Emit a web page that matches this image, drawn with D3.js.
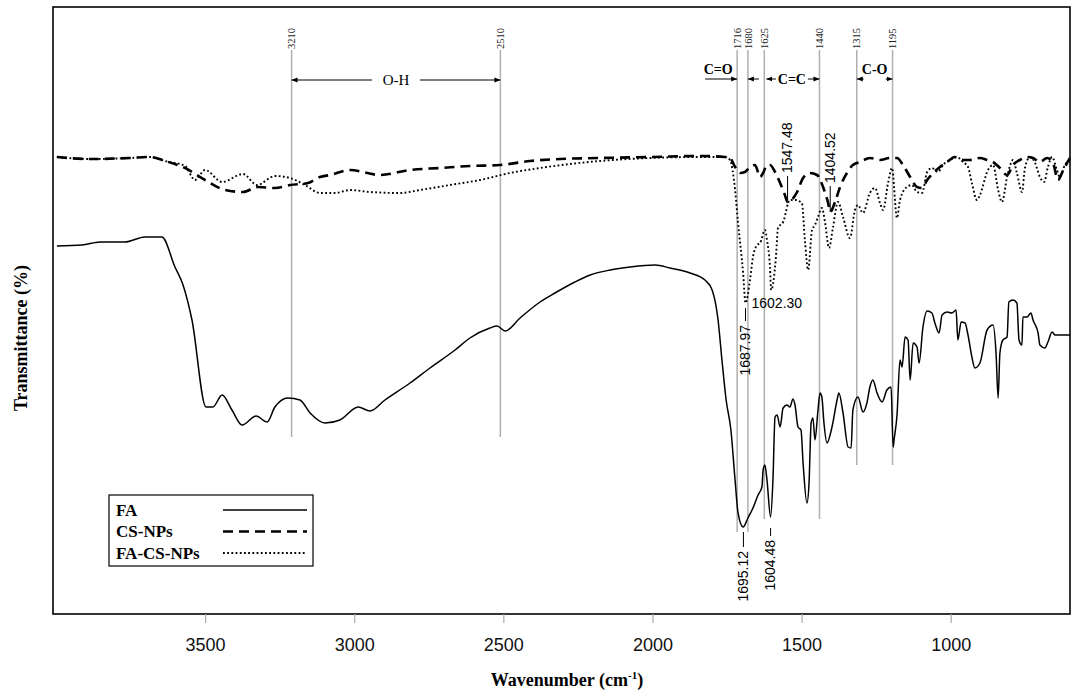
<!DOCTYPE html>
<html>
<head>
<meta charset="utf-8">
<script src="https://cdn.jsdelivr.net/npm/d3@7"></script>
<style>
  body { margin: 0; background: #fff; }
  svg { display: block; }
  .serif { font-family: "Liberation Serif", "Times New Roman", serif; }
  .sans { font-family: "Liberation Sans", Arial, sans-serif; }
</style>
</head>
<body>
<div id="chart"></div>
<script>
// ---- data (wavenumber cm-1, transmittance in arbitrary %) ----
const faWave = [3997,3913,3852,3769,3702,3645,3601,3574,3544,3497,3474,3443,3410,3376,3329,3292,3266,3222,3182,3148,3098,3048,2987,2947,2897,2813,2746,2662,2612,2545,2521,2494,2444,2377,2327,2260,2209,2142,2075,1991,1941,1874,1824,1800,1780,1767,1753,1737,1723,1713,1696,1680,1663,1646,1633,1629,1623,1616,1604,1596,1589,1582,1572,1562,1549,1539,1529,1522,1512,1502,1495,1482,1475,1468,1462,1455,1445,1438,1432,1425,1415,1398,1381,1375,1361,1344,1334,1328,1311,1294,1281,1271,1261,1247,1230,1214,1200,1193,1190,1180,1170,1163,1153,1143,1136,1126,1113,1106,1093,1079,1063,1053,1039,1029,1012,996,982,976,965,952,942,929,919,902,878,858,848,841,835,825,811,805,791,778,771,761,758,744,731,724,707,701,684,674,660,650,600];
const faT = [70.8,71.0,71.6,71.6,72.6,72.6,66.6,63.0,56.0,38.6,38.6,41.0,38.0,35.0,36.8,35.6,38.6,40.4,40.0,37.4,35.4,36.0,38.6,37.8,40.0,43.4,46.4,50.0,52.4,54.4,54.8,53.8,56.4,59.6,61.4,63.6,65.0,66.0,66.6,67.0,66.4,65.4,64.0,62.0,56.0,48.0,40.0,34.0,24.0,17.4,14.6,16.4,18.4,21.0,22.6,26.0,27.0,24.0,16.6,24.0,36.6,37.0,34.6,38.4,39.0,38.6,40.2,39.0,34.6,34.0,27.4,19.4,23.4,35.4,36.4,32.0,38.0,41.4,40.6,35.4,31.4,34.6,40.0,41.4,37.4,30.6,30.4,38.0,40.6,37.6,39.4,42.6,44.0,41.4,39.6,42.0,42.6,30.6,32.0,37.0,48.0,46.6,52.6,52.0,44.0,51.4,50.6,47.4,54.6,57.8,57.4,55.4,53.4,57.0,57.6,57.4,58.0,52.0,55.6,55.4,53.0,48.6,46.4,47.4,54.0,55.0,49.4,40.4,49.4,52.0,52.6,59.6,60.0,59.4,52.0,51.0,56.6,56.6,57.4,56.0,53.4,51.0,50.4,51.6,53.6,53.0,53.0];

const csWave = [3997,3886,3752,3685,3634,3567,3500,3433,3373,3323,3266,3215,3155,3115,3081,3014,2914,2813,2712,2612,2511,2411,2310,2176,2008,1841,1757,1740,1723,1706,1690,1673,1656,1639,1629,1616,1606,1589,1572,1556,1547,1515,1495,1472,1448,1428,1411,1404,1388,1371,1348,1328,1304,1271,1237,1204,1180,1160,1136,1113,1096,1079,1059,1036,1012,986,959,935,902,878,858,835,811,791,768,744,724,701,677,657,640,627,610,600];
const csT = [88.6,88.2,88.4,88.6,87.8,86.4,84.0,82.0,81.6,82.6,82.4,83.0,83.4,84.6,85.0,86.0,85.0,86.0,86.4,86.8,87.0,87.8,88.2,88.4,88.6,88.8,88.6,88.4,86.6,85.4,85.6,86.6,87.0,84.6,85.4,87.0,87.0,85.6,83.4,81.0,79.6,81.6,84.4,85.4,85.0,82.6,79.4,77.6,79.6,82.6,85.4,87.0,87.6,88.4,88.0,88.4,88.4,87.0,84.6,82.6,82.4,84.0,85.4,86.6,87.6,88.6,88.0,88.0,88.4,88.0,87.6,86.4,85.0,87.0,88.0,88.6,88.4,87.6,88.4,87.4,84.0,85.4,87.4,88.4];

const facsWave = [3997,3886,3752,3685,3634,3567,3534,3500,3443,3373,3326,3266,3215,3165,3115,3064,3014,2947,2847,2779,2679,2578,2478,2377,2276,2176,2008,1841,1757,1740,1723,1713,1696,1688,1673,1663,1649,1639,1623,1616,1606,1602,1586,1579,1562,1539,1522,1499,1489,1478,1465,1455,1445,1432,1421,1408,1395,1378,1361,1338,1321,1311,1294,1271,1254,1237,1227,1210,1197,1180,1170,1147,1130,1113,1096,1079,1063,1043,1026,1002,979,959,942,929,912,902,875,858,841,828,811,791,778,761,751,734,717,701,687,674,660,644,634,617,600];
const facsT = [88.6,88.2,88.4,88.6,87.8,86.8,84.0,86.0,83.6,85.2,83.0,84.8,84.4,83.0,81.4,81.4,82.0,81.6,81.4,82.0,83.0,84.0,85.4,86.4,87.2,87.8,88.4,88.6,88.6,88.0,82.0,75.4,65.4,59.4,64.0,68.6,71.0,71.4,74.0,72.0,66.6,62.0,68.6,74.4,75.6,80.0,80.0,79.4,72.0,66.0,74.0,75.0,76.6,78.4,75.4,70.4,74.4,79.6,76.6,72.4,78.0,79.0,77.4,81.4,82.4,79.4,78.0,83.4,86.4,76.4,80.0,82.6,83.0,81.6,81.4,85.6,86.4,85.6,87.0,88.0,88.6,87.6,86.6,83.4,80.0,81.0,86.0,87.0,82.0,79.6,84.6,88.0,85.4,81.6,86.4,88.6,87.4,84.6,83.6,86.6,88.6,86.0,84.6,87.0,88.0];

const seriesNames = ["FA", "CS-NPs", "FA-CS-NPs"];
const xTicks = [3500, 3000, 2500, 2000, 1500, 1000];

// reference lines (wavenumber, lower end in transmittance units)
const refWave = [3210, 2510, 1716, 1680, 1625, 1440, 1315, 1195];
const refBottom = [32.6, 32.6, 13.6, 13.6, 16.2, 16.2, 27, 27];

// peak labels: wavenumber of leader, leader start/end (T), label text
const peakWave = [1547, 1404, 1688, 1695, 1604];
const peakText = ["1547.48", "1404.52", "1687.97", "1695.12", "1604.48"];
const peakFrom = [80.0, 77.6, 58.4, 13.6, 14.4];
const peakTo = [84.8, 82.8, 55.8, 10.6, 12.8];

const W = 1084, H = 695;
const frame = { left: 53, right: 1070, top: 7, bottom: 614 };

const svg = d3.select("#chart").append("svg")
  .attr("width", W).attr("height", H);

const defs = svg.append("defs");
defs.append("marker")
  .attr("id", "arrow")
  .attr("viewBox", "0 0 10 10")
  .attr("refX", 10).attr("refY", 5)
  .attr("markerWidth", 6).attr("markerHeight", 6)
  .attr("markerUnits", "userSpaceOnUse")
  .attr("orient", "auto")
  .append("path").attr("d", "M0,1 L10,5 L0,9 Z").attr("fill", "#000");

const x = d3.scaleLinear().domain([4010, 600]).range([frame.left, frame.right]);
const y = d3.scaleLinear().domain([0, 100]).range([600, 100]);

// gray reference lines
svg.append("g").selectAll("line")
  .data(refWave)
  .enter().append("line")
  .attr("x1", d => x(d)).attr("x2", d => x(d))
  .attr("y1", y(110)).attr("y2", (d, i) => y(refBottom[i]))
  .attr("stroke", "#b0b0b0").attr("stroke-width", 1.5);

svg.append("g").selectAll("text")
  .data(refWave)
  .enter().append("text")
  .attr("class", "serif")
  .attr("transform", d => `translate(${x(d)},${y(110) - 1}) rotate(-90)`)
  .attr("dy", "0.35em")
  .attr("font-size", 10.5)
  .attr("fill", "#222")
  .text(d => d);

// band annotations
const arrowY = y(104);
function arrow(x1, x2, yy) {
  svg.append("line")
    .attr("x1", x1).attr("x2", x2).attr("y1", yy).attr("y2", yy)
    .attr("stroke", "#000").attr("stroke-width", 1)
    .attr("marker-end", "url(#arrow)");
}
function bandLabel(txt, cx, cy, bold, size) {
  svg.append("text").attr("class", "serif")
    .attr("x", cx).attr("y", cy)
    .attr("text-anchor", "middle").attr("dominant-baseline", "central")
    .attr("font-size", size).attr("font-weight", bold ? "bold" : "normal")
    .text(txt);
}
// O-H
const ohMid = (x(3210) + x(2510)) / 2;
arrow(ohMid - 24, x(3210), arrowY);
arrow(ohMid + 24, x(2510), arrowY);
bandLabel("O-H", ohMid, arrowY, false, 15);
// C=O
arrow(x(1716) - 32, x(1716), arrowY - 1);
arrow(x(1680) + 11, x(1680), arrowY - 1);
bandLabel("C=O", x(1716) - 19, arrowY - 11, true, 14);
// C=C
const ccMid = (x(1625) + x(1440)) / 2;
arrow(ccMid - 16, x(1625) + 2, arrowY - 1);
arrow(ccMid + 16, x(1440), arrowY - 1);
bandLabel("C=C", ccMid, arrowY - 1, true, 14);
// C-O
const coMid = (x(1315) + x(1195)) / 2;
arrow(coMid - 11, x(1315), arrowY - 1);
arrow(coMid + 11, x(1195), arrowY - 1);
bandLabel("C-O", coMid, arrowY - 11, true, 14);

// spectra
const line = d3.line()
  .x(d => x(d[0]))
  .y(d => y(d[1]))
  .curve(d3.curveMonotoneX);

const styles = [
  { width: 1.5, dash: null },
  { width: 2.6, dash: "10,6" },
  { width: 1.9, dash: "1.8,2.4" }
];
const spectra = [
  d3.zip(faWave, faT),
  d3.zip(csWave, csT),
  d3.zip(facsWave, facsT)
];

svg.append("g").selectAll("path")
  .data(spectra)
  .enter().append("path")
  .attr("d", line)
  .attr("fill", "none")
  .attr("stroke", "#000")
  .attr("stroke-width", (d, i) => styles[i].width)
  .attr("stroke-dasharray", (d, i) => styles[i].dash)
  .attr("stroke-linejoin", "round");

// peak leaders and labels
svg.append("g").selectAll("line")
  .data(peakWave)
  .enter().append("line")
  .attr("x1", d => x(d)).attr("x2", d => x(d))
  .attr("y1", (d, i) => y(peakFrom[i])).attr("y2", (d, i) => y(peakTo[i]))
  .attr("stroke", "#000").attr("stroke-width", 1);

svg.append("g").selectAll("text")
  .data(peakWave)
  .enter().append("text")
  .attr("class", "sans")
  .attr("font-size", 14)
  .attr("transform", (d, i) => {
    const up = peakTo[i] > peakFrom[i];
    const yy = y(peakTo[i]) + (up ? -3 : 4);
    return `translate(${x(d)},${yy}) rotate(-90)`;
  })
  .attr("text-anchor", (d, i) => peakTo[i] > peakFrom[i] ? "start" : "end")
  .attr("dy", "0.35em")
  .text((d, i) => peakText[i]);

// horizontal label for the FA-CS-NPs band
svg.append("text").attr("class", "sans")
  .attr("x", x(1688) + 6).attr("y", y(59.4))
  .attr("dy", "0.35em")
  .attr("font-size", 14)
  .text("1602.30");

// frame
svg.append("rect")
  .attr("x", frame.left).attr("y", frame.top)
  .attr("width", frame.right - frame.left).attr("height", frame.bottom - frame.top)
  .attr("fill", "none").attr("stroke", "#000").attr("stroke-width", 1.6);

// x axis
const xAxis = svg.append("g")
  .attr("transform", `translate(0,${frame.bottom})`)
  .call(d3.axisBottom(x).tickValues(xTicks).tickSize(9).tickPadding(15).tickFormat(d3.format("d")));
xAxis.select(".domain").remove();
xAxis.selectAll(".tick line").attr("stroke", "#aaa").attr("stroke-width", 1.2);
xAxis.selectAll(".tick text")
  .attr("font-family", "'Liberation Sans', Arial, sans-serif")
  .attr("font-size", 18).attr("fill", "#111");

// axis titles
const xTitle = svg.append("text").attr("class", "serif")
  .attr("x", 567).attr("y", 686)
  .attr("text-anchor", "middle")
  .attr("font-size", 18).attr("font-weight", "bold");
xTitle.append("tspan").text("Wavenumber (cm");
xTitle.append("tspan").attr("dy", -7).attr("font-size", 11).text("-1");
xTitle.append("tspan").attr("dy", 7).text(")");

svg.append("text").attr("class", "serif")
  .attr("transform", "translate(27,338) rotate(-90)")
  .attr("text-anchor", "middle")
  .attr("font-size", 18).attr("font-weight", "bold")
  .text("Transmittance (%)");

// legend
const legend = svg.append("g");
legend.append("rect")
  .attr("x", 109).attr("y", 495).attr("width", 204).attr("height", 71)
  .attr("fill", "#fff").attr("stroke", "#000").attr("stroke-width", 1.2);
const legendRow = legend.selectAll("g.item")
  .data(seriesNames)
  .enter().append("g").attr("class", "item")
  .attr("transform", (d, i) => `translate(0,${510 + i * 21.5})`);
legendRow.append("text").attr("class", "serif")
  .attr("x", 116).attr("dy", "0.35em")
  .attr("font-size", 17).attr("font-weight", "bold")
  .text(d => d);
legendRow.append("line")
  .attr("x1", 223).attr("x2", 307)
  .attr("stroke", "#000")
  .attr("stroke-width", (d, i) => styles[i].width)
  .attr("stroke-dasharray", (d, i) => styles[i].dash);
</script>
</body>
</html>
